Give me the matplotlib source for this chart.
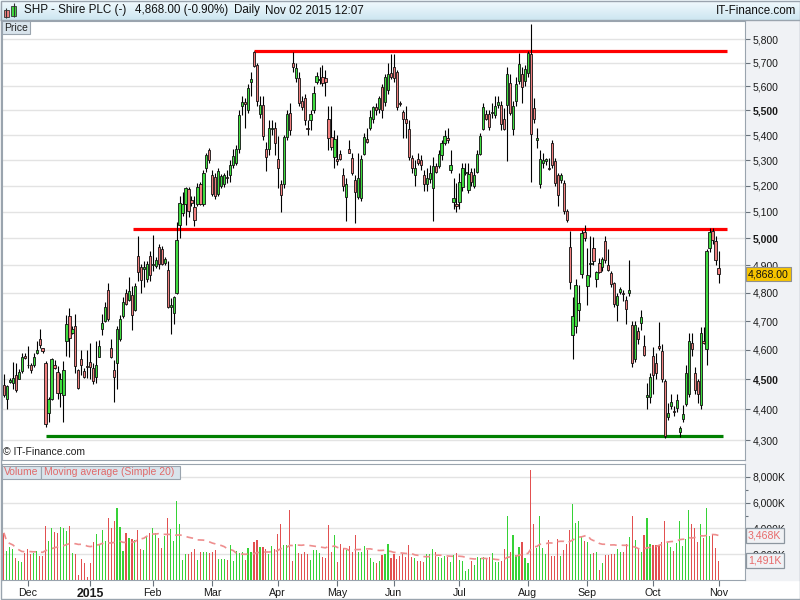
import numpy as np
import pandas as pd
import matplotlib
matplotlib.use('Agg')
import matplotlib.pyplot as plt
from matplotlib.patches import Rectangle
from matplotlib.colors import LinearSegmentedColormap
from matplotlib.ticker import NullLocator

plt.rcParams['font.family'] = ['Liberation Sans', 'DejaVu Sans']

# ── Daily candles, 19 Nov 2014 .. 2 Nov 2015 (241 sessions) ──
opens = [
    4480, 4436, 4491, 4488, 4513, 4502, 4527, 4580, 4550, 4550,
    4547, 4588, 4636, 4605, 4554, 4389, 4434, 4547, 4524, 4455,
    4447, 4630, 4717, 4659, 4683, 4530, 4569, 4527, 4545, 4560,
    4539, 4509, 4577, 4672, 4700, 4811, 4606, 4531, 4554, 4636,
    4717, 4799, 4776, 4791, 4739, 4933, 4892, 4885, 4850, 4935,
    4900, 4899, 4968, 4959, 4908, 4882, 4750, 4730, 4800, 5050,
    5095, 5128, 5187, 5143, 5116, 5128, 5205, 5130, 5267, 5340,
    5243, 5235, 5167, 5200, 5205, 5235, 5240, 5280, 5290, 5345,
    5520, 5535, 5502, 5617, 5744, 5689, 5484, 5522, 5345, 5345,
    5425, 5429, 5306, 5206, 5205, 5392, 5488, 5700, 5636, 5636,
    5541, 5551, 5430, 5460, 5503, 5617, 5625, 5640, 5635, 5467,
    5393, 5312, 5306, 5325, 5243, 5158, 5345, 5308, 5222, 5158,
    5151, 5325, 5385, 5428, 5465, 5515, 5505, 5599, 5537, 5585,
    5656, 5682, 5661, 5530, 5495, 5467, 5424, 5308, 5240, 5303,
    5300, 5243, 5205, 5225, 5190, 5278, 5278, 5319, 5368, 5390,
    5261, 5136, 5128, 5136, 5196, 5250, 5183, 5254, 5200, 5254,
    5325, 5424, 5484, 5484, 5490, 5480, 5522, 5522, 5467, 5522,
    5613, 5424, 5541, 5622, 5653, 5622, 5656, 5737, 5509, 5380,
    5205, 5290, 5295, 5270, 5368, 5296, 5240, 5220, 5210, 5103,
    4968, 4650, 4683, 4739, 4869, 5024, 4826, 4905, 4965, 4850,
    4910, 4895, 4990, 4902, 4870, 4834, 4756, 4802, 4800, 4774,
    4800, 4686, 4569, 4665, 4694, 4612, 4440, 4440, 4580, 4555,
    4612, 4596, 4495, 4375, 4410, 4395, 4404, 4328, 4368, 4418,
    4451, 4625, 4520, 4495, 4413, 4629, 4603, 4965, 5025, 4990,
    4889,
]
highs = [
    4517, 4482, 4505, 4557, 4555, 4535, 4590, 4590, 4614, 4556,
    4589, 4630, 4674, 4607, 4561, 4440, 4573, 4567, 4545, 4522,
    4561, 4720, 4746, 4681, 4724, 4535, 4599, 4539, 4599, 4625,
    4555, 4630, 4634, 4724, 4767, 4834, 4636, 4567, 4681, 4720,
    4785, 4814, 4856, 4826, 4835, 5008, 4906, 4915, 4915, 4954,
    5013, 4930, 4978, 4970, 4930, 4915, 4780, 4790, 5060, 5160,
    5175, 5196, 5195, 5160, 5160, 5210, 5215, 5260, 5330, 5350,
    5260, 5250, 5270, 5245, 5250, 5260, 5300, 5345, 5360, 5500,
    5560, 5550, 5610, 5660, 5750, 5700, 5560, 5560, 5372, 5460,
    5460, 5455, 5396, 5222, 5400, 5500, 5530, 5744, 5700, 5660,
    5560, 5570, 5460, 5500, 5600, 5660, 5680, 5690, 5670, 5520,
    5520, 5420, 5400, 5340, 5270, 5228, 5380, 5330, 5243, 5330,
    5320, 5410, 5430, 5500, 5520, 5530, 5560, 5610, 5650, 5700,
    5737, 5737, 5670, 5540, 5500, 5520, 5460, 5320, 5300, 5330,
    5320, 5260, 5270, 5280, 5312, 5290, 5340, 5380, 5420, 5430,
    5340, 5230, 5210, 5250, 5290, 5290, 5290, 5270, 5270, 5340,
    5410, 5530, 5500, 5500, 5530, 5560, 5560, 5540, 5510, 5682,
    5650, 5540, 5640, 5740, 5680, 5690, 5750, 5869, 5550, 5430,
    5340, 5330, 5310, 5310, 5380, 5310, 5250, 5250, 5220, 5110,
    5028, 4785, 4850, 4830, 5030, 5050, 4965, 5010, 5005, 4880,
    4925, 4930, 5010, 4960, 4880, 4840, 4800, 4820, 4810, 4790,
    4920, 4700, 4700, 4680, 4740, 4650, 4488, 4520, 4609, 4590,
    4695, 4620, 4500, 4420, 4450, 4410, 4450, 4345, 4415, 4550,
    4660, 4660, 4540, 4500, 4680, 4680, 4960, 5040, 5040, 5008,
    4952,
]
lows = [
    4440, 4400, 4488, 4468, 4458, 4500, 4522, 4568, 4539, 4522,
    4540, 4585, 4606, 4590, 4343, 4359, 4430, 4535, 4434, 4407,
    4359, 4580, 4576, 4655, 4522, 4468, 4516, 4505, 4505, 4500,
    4484, 4488, 4575, 4650, 4695, 4702, 4572, 4423, 4467, 4632,
    4712, 4755, 4770, 4668, 4735, 4843, 4800, 4820, 4840, 4843,
    4880, 4890, 4887, 4900, 4900, 4745, 4654, 4690, 4795, 5000,
    5085, 5050, 5080, 5120, 5047, 5120, 5125, 5120, 5255, 5290,
    5160, 5150, 5160, 5190, 5195, 5210, 5215, 5270, 5280, 5330,
    5480, 5430, 5490, 5560, 5680, 5520, 5470, 5380, 5256, 5320,
    5400, 5320, 5190, 5099, 5190, 5380, 5400, 5660, 5620, 5520,
    5500, 5440, 5400, 5420, 5490, 5610, 5610, 5600, 5560, 5340,
    5340, 5270, 5280, 5300, 5180, 5065, 5330, 5240, 5058, 5150,
    5140, 5320, 5370, 5420, 5450, 5480, 5490, 5470, 5520, 5570,
    5630, 5620, 5500, 5520, 5390, 5390, 5300, 5250, 5200, 5280,
    5260, 5180, 5180, 5210, 5065, 5250, 5270, 5300, 5360, 5370,
    5250, 5110, 5100, 5110, 5180, 5240, 5170, 5200, 5190, 5250,
    5320, 5420, 5460, 5420, 5470, 5470, 5510, 5420, 5420, 5296,
    5480, 5400, 5520, 5610, 5530, 5600, 5640, 5216, 5450, 5350,
    5190, 5270, 5280, 5260, 5270, 5200, 5120, 5210, 5090, 5060,
    4814, 4570, 4660, 4700, 4855, 4990, 4756, 4856, 4900, 4820,
    4870, 4880, 4910, 4880, 4820, 4750, 4700, 4795, 4770, 4690,
    4790, 4540, 4560, 4620, 4670, 4580, 4402, 4420, 4451, 4500,
    4600, 4490, 4308, 4365, 4400, 4380, 4390, 4310, 4360, 4410,
    4440, 4580, 4450, 4420, 4400, 4620, 4548, 4950, 4980, 4902,
    4836,
]
closes = [
    4447, 4478, 4498, 4505, 4463, 4524, 4577, 4572, 4547, 4533,
    4575, 4601, 4616, 4597, 4353, 4434, 4569, 4539, 4455, 4500,
    4531, 4690, 4642, 4673, 4545, 4472, 4550, 4509, 4541, 4542,
    4495, 4550, 4614, 4692, 4750, 4709, 4577, 4509, 4672, 4706,
    4766, 4759, 4806, 4720, 4823, 4877, 4845, 4892, 4906, 4863,
    4906, 4918, 4904, 4906, 4924, 4750, 4755, 4785, 4995, 5132,
    5128, 5190, 5104, 5134, 5069, 5196, 5131, 5250, 5322, 5300,
    5167, 5160, 5256, 5237, 5240, 5230, 5282, 5315, 5345, 5480,
    5535, 5525, 5595, 5632, 5685, 5541, 5522, 5396, 5312, 5429,
    5429, 5368, 5267, 5164, 5392, 5484, 5420, 5680, 5679, 5532,
    5513, 5460, 5424, 5484, 5573, 5643, 5632, 5615, 5620, 5389,
    5351, 5385, 5297, 5306, 5200, 5205, 5330, 5251, 5175, 5231,
    5306, 5392, 5372, 5475, 5513, 5500, 5551, 5502, 5639, 5653,
    5639, 5636, 5513, 5528, 5467, 5450, 5312, 5267, 5270, 5287,
    5280, 5205, 5231, 5250, 5278, 5255, 5325, 5368, 5396, 5380,
    5280, 5154, 5121, 5216, 5267, 5254, 5247, 5216, 5240, 5325,
    5396, 5513, 5467, 5434, 5495, 5518, 5535, 5445, 5424, 5653,
    5490, 5518, 5609, 5694, 5596, 5675, 5740, 5403, 5467, 5389,
    5303, 5300, 5305, 5265, 5280, 5210, 5164, 5240, 5103, 5069,
    4838, 4718, 4829, 4764, 5020, 5000, 4866, 4910, 4914, 4877,
    4877, 4922, 4918, 4883, 4832, 4759, 4788, 4814, 4795, 4741,
    4810, 4554, 4686, 4636, 4713, 4584, 4447, 4508, 4516, 4520,
    4608, 4500, 4313, 4389, 4426, 4392, 4432, 4340, 4384, 4520,
    4629, 4602, 4464, 4451, 4659, 4623, 4954, 5024, 4992, 4921,
    4868,
]
# volume in thousands of shares
volumes = [
    3664, 2245, 2580, 2399, 1729, 1471, 1419, 2064, 2399, 2012,
    2064, 2245, 1883, 1883, 4205, 3019, 4051, 3741, 3664, 4128,
    4051, 3793, 4180, 2064, 1987, 387, 1625, 1290, 258, 1290,
    2915, 3560, 2761, 3870, 3019, 4825, 4051, 4567, 5599, 4128,
    2245, 3612, 3277, 3173, 3096, 3870, 2399, 2322, 3354, 3612,
    3999, 3612, 3277, 2451, 3406, 4773, 3947, 3019, 6115, 4334,
    1548, 1987, 1987, 2193, 2399, 1548, 2193, 2141, 2193, 2064,
    2141, 2322, 1625, 1625, 1625, 1548, 2709, 1471, 2245, 2064,
    2193, 1548, 2503, 2193, 2967, 3096, 2580, 2580, 2399, 1987,
    2657, 2399, 3560, 4309, 2709, 2709, 5418, 1471, 2761, 2064,
    1987, 2141, 1987, 1548, 2322, 2322, 2064, 1806, 1677, 4257,
    2193, 3483, 1367, 2761, 2503, 2322, 2657, 2193, 3483, 2141,
    2193, 2657, 2322, 1677, 1367, 1290, 1471, 1935, 1987, 2761,
    1729, 1987, 1625, 1900, 1987, 1806, 2709, 1806, 1677, 1471,
    1471, 1419, 1987, 1987, 2399, 2141, 1806, 1677, 1883, 1806,
    1367, 1935, 2064, 1548, 1471, 697, 851, 1471, 1161, 1806,
    1729, 1806, 1677, 1806, 2064, 1419, 1367, 1471, 2399, 4954,
    2141, 3483, 1935, 2580, 2915, 1729, 1290, 8514, 4334, 2503,
    4954, 2451, 1987, 3096, 1883, 1883, 3173, 1883, 2322, 2761,
    3870, 5934, 4438, 4567, 3431, 3019, 2967, 1987, 2064, 2193,
    774, 1290, 1935, 1935, 1987, 1987, 2374, 2193, 2141, 2761,
    3354, 4954, 3096, 2451, 2141, 3483, 4825, 2761, 2709, 2709,
    2709, 2915, 4567, 2915, 2580, 2245, 2838, 4567, 2657, 3173,
    5418, 4309, 3999, 2915, 4309, 3277, 5599, 3431, 3483, 2451,
    1491,
]

# first session of each month (index into the series)
month_pos = [8, 29, 50, 70, 92, 112, 131, 153, 176, 196, 218, 240]
month_labels = ['Dec', '2015', 'Feb', 'Mar', 'Apr', 'May', 'Jun', 'Jul',
                'Aug', 'Sep', 'Oct', 'Nov']
price_ticks = list(range(4300, 5801, 100))
bold_ticks = [4500, 5000, 5500]
vol_ticks = [2000, 4000, 6000, 8000]
vol_minor = [1000, 3000, 5000, 7000]

# trend lines drawn on the chart: (from session, to session, level)
red_lines = [(84, 243, 5750), (43.5, 243, 5035)]
green_lines = [(14, 241.5, 4315)]

last_price_label = '4,868.00'
ma_label = '3,468K'
vol_label = '1,491K'
ma_last = 3468

# ── Figure skeleton (pixel layout, 800x600) ──────────────────────────────────
W, H = 800, 600
GRAY = '#9aa4ae'
fig = plt.figure(figsize=(8, 6), dpi=100)

def frame(l, t, r, b):
    return [l / W, 1 - b / H, (r - l) / W, (b - t) / H]

bg = fig.add_axes([0, 0, 1, 1], zorder=-10)
bg.set_xlim(0, W); bg.set_ylim(H, 0); bg.axis('off')
bg.add_patch(Rectangle((745, 20), 55, 560, color='#f0f2f5'))

ax = fig.add_axes(frame(2, 21, 745, 460))
axv = fig.add_axes(frame(2, 464, 745, 580))

o = np.array(opens, float); h = np.array(highs, float)
l = np.array(lows, float); c = np.array(closes, float)
v = np.array(volumes, float)
x = np.arange(len(o))
up = c >= o
XL = (-0.64, 248.9)

# ── Price panel ──────────────────────────────────────────────────────────────
ax.set_yscale('log')
for x0, x1, lvl in red_lines:
    ax.hlines(lvl, x0, x1, color='#ff0000', lw=2.3, zorder=2)
for x0, x1, lvl in green_lines:
    ax.hlines(lvl, x0, x1, color='#008000', lw=2.3, zorder=2)

ax.vlines(x, l, h, color='black', lw=0.8, zorder=3)
ax.bar(x, np.maximum(np.abs(c - o), 2), bottom=np.minimum(o, c), width=0.75,
       color=np.where(up, '#3fdc3f', '#f07f7f'), edgecolor='#111111',
       linewidth=0.6, zorder=4)

ax.set_xlim(*XL)
ax.set_ylim(4237, 5880)
ax.set_yticks(price_ticks, [f'{t:,}' for t in price_ticks])
ax.yaxis.set_minor_locator(NullLocator())
ax.yaxis.tick_right()
for t, val in zip(ax.get_yticklabels(), price_ticks):
    if val in bold_ticks:
        t.set_fontweight('bold'); t.set_fontsize(8.2)
ax.tick_params(axis='y', length=3.5, width=0.8, color='#6a737c',
               labelsize=7.5, pad=2, labelcolor='#1a1a1a')
ax.tick_params(axis='x', bottom=False, labelbottom=False)
ax.grid(axis='y', color='#e3e3e3', lw=1)
ax.set_axisbelow(True)
for s in ax.spines.values():
    s.set_color(GRAY); s.set_linewidth(0.8)

ytr = ax.get_yaxis_transform()
ax.text(1.004, c[-1], last_price_label, transform=ytr, va='center', ha='left',
        fontsize=7.6, color='#111111', clip_on=False, zorder=10,
        bbox=dict(boxstyle='square,pad=0.22', fc='#f7c400', ec='#8f8f8f', lw=0.8))
ax.text(0.002, 0.018, '\u00a9 IT-Finance.com', transform=ax.transAxes,
        fontsize=7.5, color='#222222', va='center')

# ── Volume panel ─────────────────────────────────────────────────────────────
ma = pd.Series(v).rolling(20, min_periods=1).mean()
axv.bar(x, v, width=0.38, color=np.where(up, '#36d236', '#e25050'),
        linewidth=0, zorder=3)
axv.plot(x, ma, color='#ee8e8e', lw=1.2, ls=(0, (4, 3)), zorder=4)
axv.set_xlim(*XL)
axv.set_ylim(0, 9000)
axv.yaxis.tick_right()
axv.set_yticks(vol_ticks, [f'{t:,}K' for t in vol_ticks])
axv.set_yticks(vol_minor, minor=True)
axv.tick_params(axis='y', which='major', length=3.5, width=0.8, color='#6a737c',
                labelsize=7.5, pad=2, labelcolor='#1a1a1a')
axv.tick_params(axis='y', which='minor', length=2.5, width=0.8, color='#6a737c')
axv.set_xticks(month_pos, month_labels)
axv.tick_params(axis='x', length=4, width=0.8, color='#6a737c', labelsize=7.7,
                pad=1.5, labelcolor='#1a1a1a')
for t, lab in zip(axv.get_xticklabels(), month_labels):
    if lab == '2015':
        t.set_fontweight('bold'); t.set_fontsize(8.8)
axv.grid(axis='y', color='#e3e3e3', lw=1)
axv.set_axisbelow(True)
for s in axv.spines.values():
    s.set_color(GRAY); s.set_linewidth(0.8)

vtr = axv.get_yaxis_transform()
for val, txt in [(ma_last, ma_label), (v[-1], vol_label)]:
    axv.text(1.004, val, txt, transform=vtr, va='center', ha='left',
             fontsize=7.6, color='#e86a6a', clip_on=False, zorder=10,
             bbox=dict(boxstyle='square,pad=0.22', fc='#f0f2f5', ec='#8c969f', lw=0.9))

# ── Header and panel tags ────────────────────────────────────────────────────
ov = fig.add_axes([0, 0, 1, 1], zorder=20)
ov.axis('off')
grad = np.linspace(0, 1, 40).reshape(-1, 1)
ov.imshow(grad, extent=[0, W, 20, 0], aspect='auto', zorder=0,
          cmap=LinearSegmentedColormap.from_list('hdr', ['#f3fbfe', '#cde6f1']))
ov.set_xlim(0, W); ov.set_ylim(H, 0)
ov.hlines(20, 0, W, color=GRAY, lw=1)

# little candle icon
ov.vlines(6, 8, 18, color='#333333', lw=0.8)
ov.add_patch(Rectangle((3.5, 10), 5, 6.5, fc='#f07f7f', ec='#333333', lw=0.6))
ov.vlines(13.5, 2.5, 17, color='#333333', lw=0.8)
ov.add_patch(Rectangle((11, 5.5), 5, 10, fc='#3fdc3f', ec='#333333', lw=0.6))

hdr_kw = dict(fontsize=8.4, va='center', color='#111111')
ov.text(24, 10.5, 'SHP - Shire PLC (-)', **hdr_kw)
ov.text(135, 10.5, '4,868.00 (-0.90%)', **hdr_kw)
ov.text(234, 10.5, 'Daily', **hdr_kw)
ov.text(265, 10.5, 'Nov 02 2015 12:07', **hdr_kw)
ov.text(796, 10.5, 'IT-Finance.com', ha='right', **hdr_kw)

tag_fc = '#d9e4ec'
ov.add_patch(Rectangle((2, 21), 28, 13, fc=tag_fc, ec=GRAY, lw=0.8))
ov.text(4.5, 27.8, 'Price', fontsize=7.5, va='center', color='#222222')
ov.add_patch(Rectangle((2, 465.5), 39, 13, fc=tag_fc, ec=GRAY, lw=0.8))
ov.text(4, 472, 'Volume', fontsize=7.5, va='center', color='#e06a6a')
ov.add_patch(Rectangle((41, 465.5), 139, 13, fc=tag_fc, ec=GRAY, lw=0.8))
ov.text(43.5, 472, 'Moving average (Simple 20)', fontsize=7.5, va='center',
        color='#e06a6a')

ov.add_patch(Rectangle((0.5, 0.5), 799, 598, fill=False, ec=GRAY, lw=1))

fig.savefig('out.png', dpi=100)
